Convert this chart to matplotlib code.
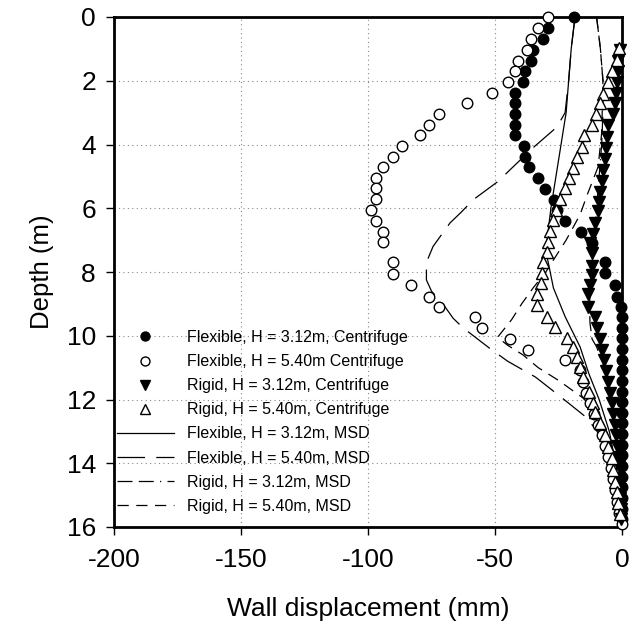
import matplotlib
matplotlib.use("Agg")
import matplotlib.pyplot as plt

plt.rcParams['font.family'] = ['Liberation Sans', 'DejaVu Sans']
plt.rcParams['axes.unicode_minus'] = False

# ---- Centrifuge data (displacement mm, depth m) ----
flex312_x = [-19, -29, -31, -35, -36, -38, -39, -42, -42, -42, -42, -42, -38.6, -38, -36.6, -33, -30.3,
             -26.8, -25.6, -22.4, -16, -11.8, -6.7, -6.7, -2.8, -2, -0.4, 0, 0, 0, 0, 0, 0, 0, 0, 0,
             0, 0, 0, 0, 0, 0, 0, 0, 0, 0, 0]
flex312_d = [0, 0.35, 0.7, 1.03, 1.37, 1.7, 2.03, 2.37, 2.7, 3.05, 3.4, 3.7, 4.05, 4.4, 4.72, 5.05, 5.4,
             5.74, 6.05, 6.4, 6.75, 7.08, 7.7, 8.03, 8.4, 8.77, 9.1, 9.42, 9.75, 10.08, 10.42, 10.75,
             11.08, 11.42, 11.75, 12.08, 12.42, 12.75, 13.08, 13.42, 13.75, 14.08, 14.42, 14.75,
             15.08, 15.42, 15.75]

flex540_x = [-29, -33, -36, -37.5, -41, -42, -45, -51, -61, -72, -76, -79.5, -86.6, -90, -94, -97, -97,
             -97, -99, -97, -94, -94, -90, -90, -83, -76, -72, -58, -55, -44, -37, -22.4, -16.5,
             -15.4, -14, -12.6, -11, -9.5, -8, -6.5, -5.5, -4.5, -3.5, -2.7, -2, -1, 0]
flex540_d = [0, 0.35, 0.7, 1.03, 1.37, 1.7, 2.03, 2.37, 2.7, 3.05, 3.4, 3.7, 4.05, 4.4, 4.7, 5.05, 5.37,
             5.7, 6.05, 6.4, 6.75, 7.06, 7.7, 8.07, 8.4, 8.77, 9.1, 9.4, 9.76, 10.1, 10.45, 10.76,
             11.07, 11.45, 11.8, 12.1, 12.45, 12.8, 13.1, 13.45, 13.8, 14.15, 14.5, 14.85, 15.2,
             15.55, 15.9]

rigid312_x = [-0.8, -1.6, -1.6, -2, -2.4, -2.8, -3.5, -5.5, -6, -6.3, -6.7, -7.5, -8, -8.7, -9, -9.4,
              -10.5, -11.4, -12.6, -11.8, -11.8, -11.8, -12.6, -13.4, -13.4, -10.6, -10, -8.7, -8,
              -7, -6.3, -5.5, -4.8, -4, -3.5, -2.8, -2.4, -2, -1.6, -1.2, -1, -0.8, -0.6, -0.4, -0.2]
rigid312_d = [1.03, 1.37, 1.7, 2.03, 2.37, 2.7, 3.05, 3.4, 3.75, 4.1, 4.45, 4.8, 5.15, 5.5, 5.8, 6.1,
              6.45, 6.8, 7.1, 7.4, 7.8, 8.1, 8.4, 8.7, 9.1, 9.4, 9.75, 10.1, 10.45, 10.76, 11.1,
              11.45, 11.8, 12.1, 12.45, 12.8, 13.1, 13.45, 13.8, 14.1, 14.45, 14.8, 15.1, 15.45, 15.75]

rigid540_x = [-1, -2, -4, -5.5, -7.5, -8.7, -10.2, -12, -15, -15.7, -17.7, -19.3, -21, -22.4, -24.4,
              -26, -27, -28.3, -29, -29.5, -31, -31.5, -32, -33.5, -33.5, -29.5, -26.4, -21.7, -19.3,
              -17.7, -16.5, -15.4, -13, -11.4, -10.6, -8.7, -6.7, -5.5, -4, -3.5, -2.8, -2, -1.6, -0.8]
rigid540_d = [0.97, 1.35, 1.7, 2.03, 2.4, 2.7, 3.05, 3.4, 3.7, 4.07, 4.4, 4.75, 5.05, 5.37, 5.7, 6.05,
              6.37, 6.7, 7.05, 7.37, 7.7, 8.03, 8.35, 8.7, 9.04, 9.4, 9.72, 10.07, 10.35, 10.66,
              10.98, 11.3, 11.75, 12.1, 12.4, 12.75, 13.1, 13.5, 13.85, 14.2, 14.6, 14.9, 15.25, 15.6]

# ---- MSD predictions ----
msd_flex312_x = [-18.5, -20, -21, -22, -24, -26, -28, -29.5, -29.3, -27, -22.4, -16.5, -13, -9, -5, -2.5, -1, 0]
msd_flex312_d = [0, 1, 2, 3, 4, 5, 6, 7, 7.6, 8.5, 9.4, 10.35, 11.2, 12, 13, 14, 15, 16]

msd_flex540_x = [-18.5, -20, -21, -22.4, -25.6, -35, -49, -58.7, -63, -67.7, -74.4, -77, -77, -75, -70.5,
                 -66.5, -62.6, -52, -45, -34, -24.4, -15, -10.6, -6, -2, 0]
msd_flex540_d = [0, 1, 2, 3, 3.45, 4.1, 5.17, 5.74, 6.1, 6.46, 7.2, 7.7, 8.25, 8.6, 9.0, 9.45, 9.75,
                 10.4, 10.8, 11.3, 11.9, 12.5, 12.9, 13.5, 14.5, 16]

msd_rigid312_x = [-10, -8.5, -7.5, -7.5, -8, -9, -10, -11, -12, -12.8, -12.6, -11.8, -10, -6, -3, -1, 0]
msd_rigid312_d = [0, 1, 2, 3, 4, 5, 6, 7, 8, 9, 9.6, 10.1, 10.35, 11.2, 12.5, 14, 16]

msd_rigid540_x = [-10, -8.5, -7.5, -7.8, -8, -9.4, -13.8, -16.5, -22, -26, -30, -35, -39.5, -43.5,
                  -47.5, -49, -45, -39, -33, -25, -15.4, -9, -5, -2.5, -1, 0]
msd_rigid540_d = [0, 1, 2, 3, 3.64, 4.7, 5.6, 6.2, 7.0, 7.5, 8.0, 8.5, 9.0, 9.5, 9.9, 10.05, 10.3,
                  10.6, 11.0, 11.4, 11.95, 12.5, 13.2, 14, 15, 16]

labels = ["Flexible, H = 3.12m, Centrifuge", "Flexible, H = 5.40m Centrifuge",
          "Rigid, H = 3.12m, Centrifuge", "Rigid, H = 5.40m, Centrifuge",
          "Flexible, H = 3.12m, MSD", "Flexible, H = 5.40m, MSD",
          "Rigid, H = 3.12m, MSD", "Rigid, H = 5.40m, MSD"]

x_ticks = [-200, -150, -100, -50, 0]
y_ticks = [0, 2, 4, 6, 8, 10, 12, 14, 16]

fig = plt.figure(figsize=(6.33, 6.40), dpi=100)
ax = fig.add_axes([114/633, 1 - 527/640, (622-114)/633, (527-17)/640])

lw = 0.9
h5, = ax.plot(msd_flex312_x, msd_flex312_d, color='black', lw=lw, ls='-', zorder=2)
h6, = ax.plot(msd_flex540_x, msd_flex540_d, color='black', lw=lw, ls=(0, (22, 9)), zorder=2)
h7, = ax.plot(msd_rigid312_x, msd_rigid312_d, color='black', lw=lw, ls=(0, (12, 5, 12, 5, 1, 5)), zorder=2)
h8, = ax.plot(msd_rigid540_x, msd_rigid540_d, color='black', lw=lw, ls=(0, (9, 6)), zorder=2)

ms = 7.6
mew = 1.0
h1, = ax.plot(flex312_x, flex312_d, 'o', ms=ms, mfc='black', mec='black', mew=mew, clip_on=False, zorder=5)
h2, = ax.plot(flex540_x, flex540_d, 'o', ms=ms, mfc='white', mec='black', mew=mew, clip_on=False, zorder=5)
h3, = ax.plot(rigid312_x, rigid312_d, 'v', ms=ms+0.5, mfc='black', mec='black', mew=mew, clip_on=False, zorder=5)
h4, = ax.plot(rigid540_x, rigid540_d, '^', ms=ms+0.5, mfc='white', mec='black', mew=mew, clip_on=False, zorder=6)

ax.set_xlim(-200, 0)
ax.set_ylim(16, 0)
ax.set_xticks(x_ticks)
ax.set_yticks(y_ticks)
ax.set_xticklabels([str(v) for v in x_ticks])
ax.tick_params(direction='out', length=6, width=1, labelsize=19)
ax.tick_params(axis='x', pad=9)
ax.tick_params(axis='y', pad=7)
for s in ax.spines.values():
    s.set_linewidth(2)
ax.grid(True, ls=(0, (1, 3)), color='#888888', lw=0.8)
ax.set_axisbelow(True)

ax.set_xlabel("Wall displacement (mm)", fontsize=19, labelpad=18)
ax.set_ylabel("Depth (m)", fontsize=18.5, labelpad=9)

leg = ax.legend([h1, h2, h3, h4, h5, h6, h7, h8], labels, loc='lower left',
                bbox_to_anchor=(0.005, 0.026), frameon=False, fontsize=11.5,
                handlelength=3.6, handletextpad=0.8, labelspacing=0.57,
                borderpad=0, borderaxespad=0, markerscale=0.85)

fig.savefig("out.png", dpi=100)
